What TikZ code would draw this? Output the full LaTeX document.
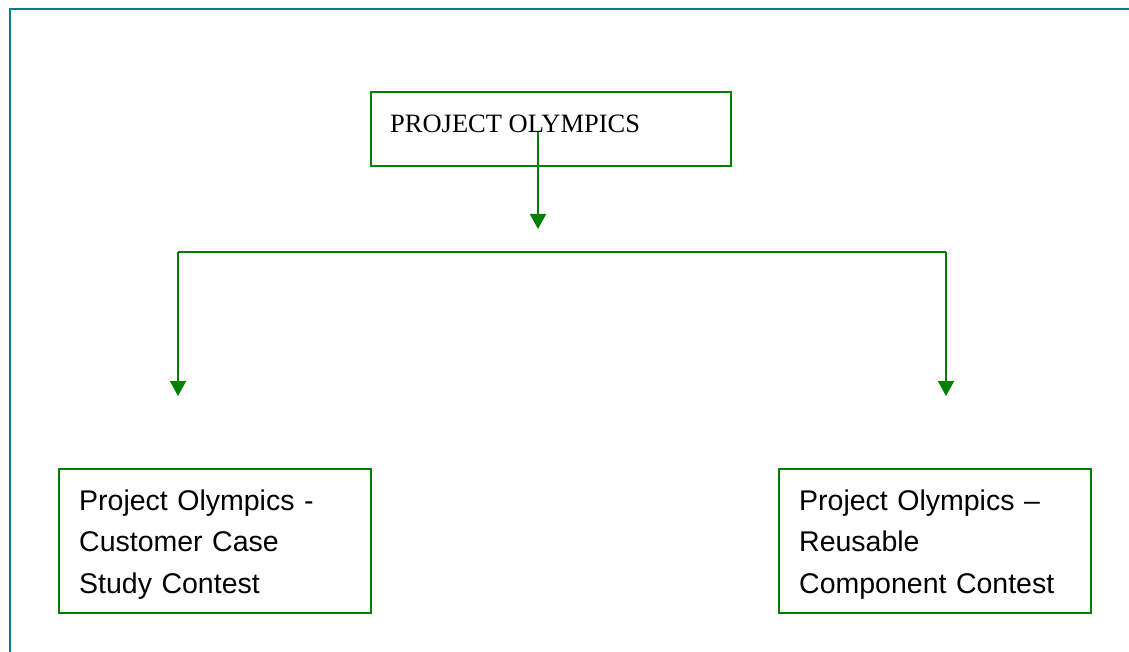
\documentclass[tikz,border=0pt]{standalone}
\usepackage{fontspec}
\setmainfont{Liberation Serif}
\newfontfamily\arialfont{Liberation Sans}
\usetikzlibrary{arrows.meta}
\definecolor{boxgreen}{RGB}{0,128,0}
\definecolor{frameteal}{RGB}{0,128,128}
\tikzset{
  box/.style={draw=boxgreen, line width=2pt, rectangle, inner sep=0pt, anchor=north west},
  conn/.style={draw=boxgreen, line width=2pt},
  arr/.style={conn, -{Triangle[width=16pt,length=15pt]}},
  txt/.style={inner sep=0pt, anchor=base west, align=left},
  toptxt/.style={txt, font=\fontsize{26.5pt}{30pt}\selectfont},
  subtxt/.style={txt, text width=300pt, font=\arialfont\fontsize{28.5pt}{41.5pt}\selectfont},
}
\begin{document}
\begin{tikzpicture}[x=1pt,y=-1pt]
\useasboundingbox (0,0) rectangle (1129,652);
% outer frame (left and top edges)
\draw[frameteal, line width=2.2pt] (10,652) -- (10,9) -- (1129,9);
% boxes
\node[box, minimum width=360pt, minimum height=74pt] (top) at (370,91) {};
\node[toptxt] (toptext) at (390,133) {PROJECT OLYMPICS};
\node[box, minimum width=312pt, minimum height=144pt] (left) at (58,468) {};
\node[subtxt] (lefttext) at (79,510) {Project Olympics -\\Customer Case\\Study Contest};
\node[box, minimum width=312pt, minimum height=144pt] (right) at (778,468) {};
\node[subtxt] (righttext) at (799,510) {Project Olympics –\\Reusable\\Component Contest};
% connectors
\coordinate (s) at (538,132);
\coordinate (t) at (538,229);
\coordinate (hl) at (178,252);
\coordinate (hr) at (946,252);
\coordinate (tl) at (178,396);
\coordinate (tr) at (946,396);
\draw[arr] (s) -- (t);
\draw[conn] (hl) -- (hr);
\draw[arr] (hl) -- (tl);
\draw[arr] (hr) -- (tr);
\end{tikzpicture}
\end{document}
